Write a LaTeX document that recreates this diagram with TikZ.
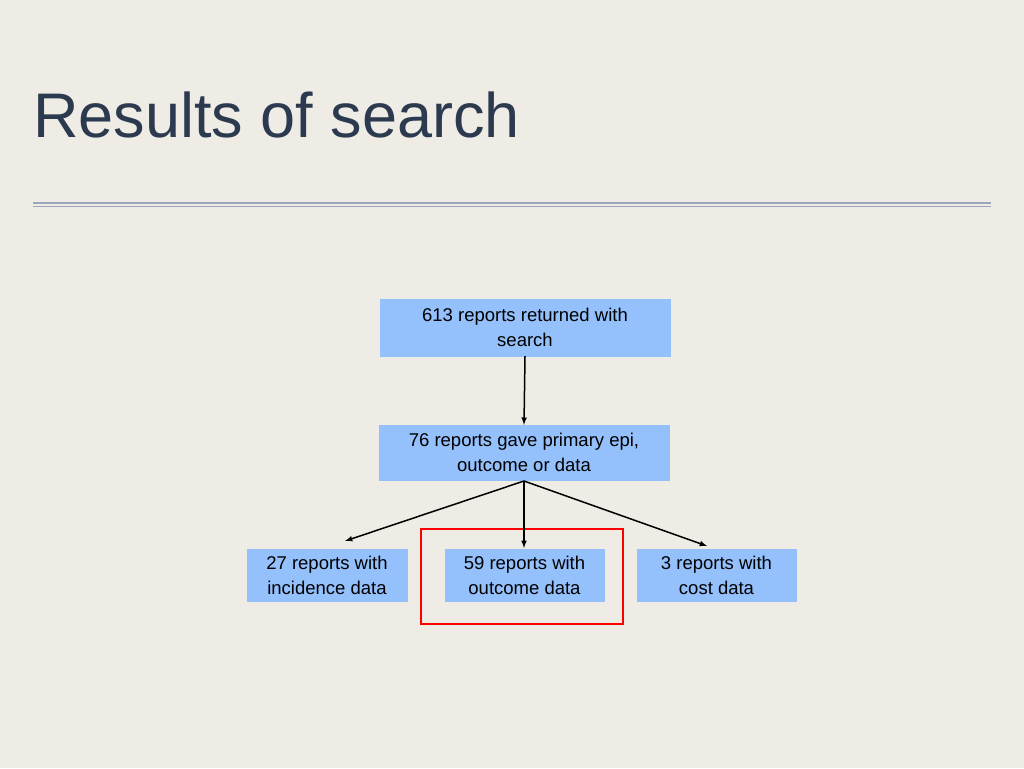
\documentclass[tikz,border=0pt]{standalone}
\usepackage{fontspec}
\setmainfont{Liberation Sans}
\begin{document}
\begin{tikzpicture}[x=1pt,y=-1pt,
  box/.style={fill=boxblue, draw=boxblue, align=center, font=\fontsize{18.5}{25}\selectfont, inner sep=0pt},
  arr/.style={-latex, line width=1.5pt, black}]
\definecolor{bg}{HTML}{EFECE6}
\definecolor{boxblue}{HTML}{94C0FB}
\definecolor{titlec}{HTML}{2B3A4E}
\definecolor{rulec}{HTML}{9AA6BC}
\fill[bg] (0,0) rectangle (1024,768);
\useasboundingbox (0,0) rectangle (1024,768);
\node[anchor=base west, text=titlec, font=\fontsize{63}{70}\selectfont, inner sep=0pt] (title) at (33,137) {Results of search};
\draw[rulec, line width=1.2pt] (33,203) -- (991,203);
\draw[rulec, line width=1.2pt] (33,206.5) -- (991,206.5);
\node[box, minimum width=290, minimum height=57] (a) at (525,327.5) {613 reports returned with\\search};
\node[box, minimum width=290, minimum height=55] (b) at (524,452.5) {76 reports gave primary epi,\\outcome or data};
\node[box, minimum width=160, minimum height=52] (c) at (327,575) {27 reports with\\incidence data};
\node[box, minimum width=159, minimum height=52] (d) at (524.5,575) {59 reports with\\outcome data};
\node[box, minimum width=159, minimum height=52] (e) at (716.5,575) {3 reports with\\cost data};
\node[draw=red, line width=1.5pt, minimum width=202, minimum height=95, inner sep=0pt] (r) at (522,576.5) {};
\draw[arr] (a.south) -- (b.north);
\coordinate (s) at (524,481);
\draw[arr] (s) -- (345,541);
\draw[arr] (s) -- (524,548);
\draw[arr] (s) -- (707,546);
\end{tikzpicture}
\end{document}
